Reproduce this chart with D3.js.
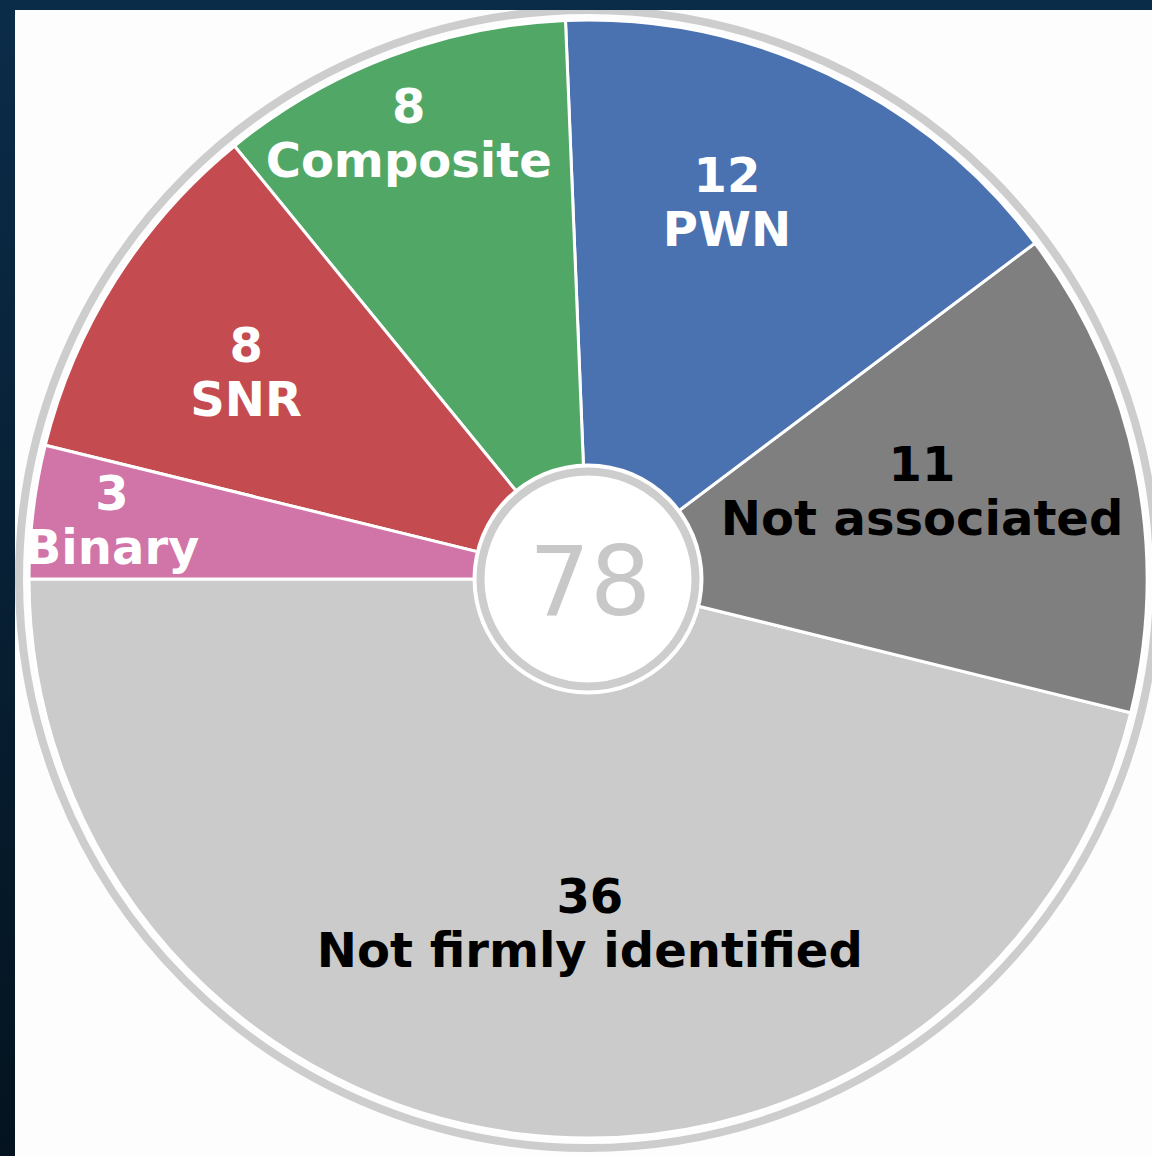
<!DOCTYPE html>
<html>
<head>
<meta charset="utf-8">
<script src="https://cdn.jsdelivr.net/npm/d3@7"></script>
<style>
  html, body { margin: 0; padding: 0; background: #071e33; }
  svg { display: block; }
</style>
</head>
<body>
<div id="chart"></div>
<script>
// slices, counter-clockwise starting at 9 o'clock
var categories = ["Not firmly identified", "Not associated", "PWN", "Composite", "SNR", "Binary"];
var counts = [36, 11, 12, 8, 8, 3];
var colors = ["#cbcbcb", "#7f7f7f", "#4a71b0", "#51a866", "#c44b4f", "#d174a8"];
var labelColors = ["#000", "#000", "#fff", "#fff", "#fff", "#fff"];

// label placement: fraction of radius and angle (deg, ccw from 3 o'clock)
var labelRadius = [0.615, 0.618, 0.72, 0.86, 0.715, 0.858];
var labelAngle = [-89.7, 14.8, 69.8, 111.9, 148.8, 172.9];

var W = 1152, H = 1156;
var cx = 588, cy = 579, R = 559;
var holeR = 107.5;
var fontSize = 48, lineGap = 54, capH = 35;

var svg = d3.select("#chart").append("svg")
  .attr("width", W)
  .attr("height", H);

var defs = svg.append("defs");
var grad = defs.append("linearGradient")
  .attr("id", "bg")
  .attr("x1", 0).attr("y1", 0)
  .attr("x2", 0).attr("y2", 1);
grad.append("stop").attr("offset", "0%").attr("stop-color", "#0b2c49");
grad.append("stop").attr("offset", "100%").attr("stop-color", "#04131f");

defs.append("clipPath").attr("id", "panel")
  .append("rect")
    .attr("x", 15).attr("y", 10)
    .attr("width", W - 15).attr("height", H - 10);

svg.append("rect")
  .attr("width", W).attr("height", H)
  .attr("fill", "url(#bg)");

// white card behind the chart
svg.append("rect")
  .attr("x", 15).attr("y", 10)
  .attr("width", W - 15).attr("height", H - 10)
  .attr("fill", "#fdfdfd");

var g = svg.append("g")
  .attr("clip-path", "url(#panel)")
  .append("g")
    .attr("transform", "translate(" + cx + "," + cy + ")");

var pie = d3.pie()
  .sort(null)
  .startAngle(1.5 * Math.PI)
  .endAngle(-0.5 * Math.PI)
  .value(function(d){ return d; });

var arcs = pie(counts);
var arc = d3.arc().innerRadius(0).outerRadius(R);

// outer grey ring
g.append("circle")
  .attr("r", R + 10)
  .attr("fill", "none")
  .attr("stroke", "#cdcdcd")
  .attr("stroke-width", 8);

g.selectAll("path.slice")
  .data(arcs)
  .enter().append("path")
    .attr("class", "slice")
    .attr("d", arc)
    .attr("fill", function(d, i){ return colors[i]; })
    .attr("stroke", "#fff")
    .attr("stroke-width", 3)
    .attr("stroke-linejoin", "round");

// centre hole with total
g.append("circle")
  .attr("r", holeR + 8)
  .attr("fill", "#fff");
g.append("circle")
  .attr("r", holeR)
  .attr("fill", "#fff")
  .attr("stroke", "#cdcdcd")
  .attr("stroke-width", 8);
g.append("text")
  .attr("x", 2)
  .attr("y", 36)
  .attr("text-anchor", "middle")
  .style("font-family", "DejaVu Sans")
  .style("font-size", "96px")
  .style("fill", "#c8c8c8")
  .text(d3.sum(counts));

// slice labels: count on first line, name below
var labels = g.selectAll("text.label")
  .data(arcs)
  .enter().append("text")
    .attr("class", "label")
    .attr("text-anchor", "middle")
    .style("font-family", "DejaVu Sans")
    .style("font-weight", "bold")
    .style("font-size", fontSize + "px")
    .style("fill", function(d, i){ return labelColors[i]; })
    .attr("transform", function(d, i){
      var a = labelAngle[i] * Math.PI / 180;
      var r = labelRadius[i] * R;
      return "translate(" + (r * Math.cos(a)) + "," + (-r * Math.sin(a)) + ")";
    });

labels.append("tspan")
  .attr("x", 0)
  .attr("y", -lineGap / 2 + capH / 2)
  .text(function(d){ return d.data; });
labels.append("tspan")
  .attr("x", 0)
  .attr("y", lineGap / 2 + capH / 2)
  .text(function(d, i){ return categories[i]; });
</script>
</body>
</html>
